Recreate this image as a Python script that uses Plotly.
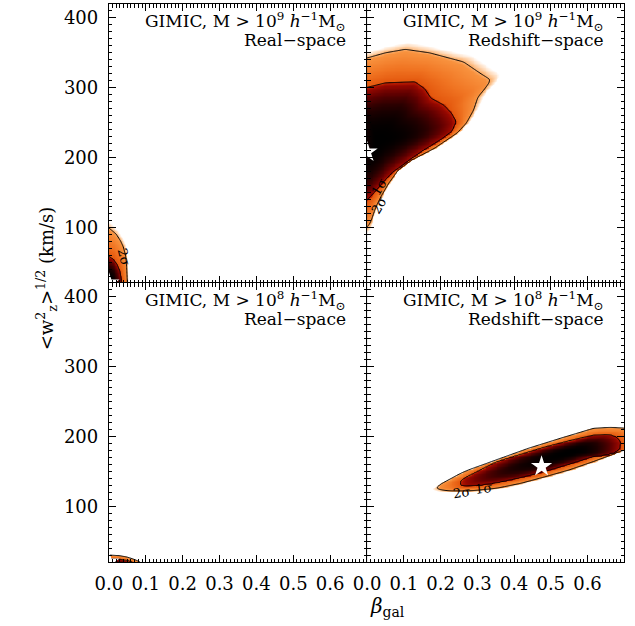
import numpy as np
import plotly.graph_objects as go

# ---------------------------------------------------------------------------
# Axis set-up
# ---------------------------------------------------------------------------
BETA_RANGE = [0.0, 0.7]
SIGMA_RANGE = [20.0, 420.0]
beta_ticks = [0.0, 0.1, 0.2, 0.3, 0.4, 0.5, 0.6]
sigma_ticks = [100, 200, 300, 400]

# Likelihood contour levels (delta chi^2 for two parameters)
DCHI2_1SIG = 2.30
DCHI2_2SIG = 6.17

# ---------------------------------------------------------------------------
# Panel data: peak of the likelihood, 1-sigma and 2-sigma outlines, best fit
# ---------------------------------------------------------------------------
# GIMIC, M > 1e9, real space
tl_peak = (0.0, 22.0)
tl_1sig_beta = [-0.03, 0.0, 0.012, 0.022, 0.030, 0.034, 0.035, 0.030, 0.0, -0.03]
tl_1sig_sigma = [58, 58, 54, 47, 37, 25, 15, 5, 0, 0]
tl_2sig_beta = [-0.04, 0.0, 0.020, 0.032, 0.039, 0.045, 0.048, 0.049, 0.050, 0.050, 0.040, 0.0, -0.04]
tl_2sig_sigma = [99, 99, 90, 80, 72, 60, 48, 35, 22, 10, -5, -10, -10]
tl_star = (0.0, 20.0)

# GIMIC, M > 1e9, redshift space
tr_peak = (0.03, 225.0)
tr_1sig_beta = [-0.04, 0.0, 0.05, 0.13, 0.156, 0.174, 0.209, 0.231, 0.243, 0.231,
                0.200, 0.148, 0.106, 0.068, 0.042, 0.022, 0.0, -0.04]
tr_1sig_sigma = [301, 300.5, 307, 308.6, 299, 285, 275, 263, 251, 237,
                 225, 208, 192, 177.6, 163, 151, 139, 128]
tr_2sig_beta = [-0.04, 0.0, 0.05, 0.104, 0.17, 0.2625, 0.31, 0.337, 0.320, 0.302,
                0.290, 0.270, 0.245, 0.183, 0.121, 0.085, 0.059, 0.037, 0.024,
                0.009, 0.0, -0.04]
tr_2sig_sigma = [341, 342.6, 350, 355, 350, 337, 320, 311, 298, 287,
                 268, 249, 235, 213, 196, 182, 163, 143, 129,
                 106, 100, 88]
tr_star = (0.0, 208.0)

# GIMIC, M > 1e8, real space
bl_peak = (0.0, 15.0)
bl_1sig_beta = [-0.03, 0.0, 0.03, 0.05, 0.065, 0.070, 0.060, 0.0, -0.03]
bl_1sig_sigma = [25, 25, 24, 22.5, 20, 15, 8, 5, 5]
bl_2sig_beta = [-0.04, 0.0, 0.03, 0.05, 0.07, 0.085, 0.090, 0.080, 0.0, -0.04]
bl_2sig_sigma = [30, 30, 29, 27, 23.5, 20, 15, 5, 0, 0]
bl_star = (0.0, 20.0)

# GIMIC, M > 1e8, redshift space
br_peak = (0.55, 178.0)
br_1sig_beta = [0.254, 0.30, 0.351, 0.42, 0.483, 0.55, 0.616, 0.660, 0.680, 0.690,
                0.688, 0.675, 0.640, 0.616, 0.55, 0.483, 0.42, 0.351, 0.30, 0.254]
br_1sig_sigma = [138, 150, 164, 175, 185, 194, 202, 203, 199, 192,
                 182, 176, 172, 171, 160, 149.5, 141, 133, 129, 128]
br_2sig_beta = [0.183, 0.22, 0.2625, 0.35, 0.439, 0.53, 0.616, 0.660, 0.700, 0.735,
                0.750, 0.740, 0.700, 0.616, 0.55, 0.483, 0.42, 0.351, 0.28, 0.218, 0.195]
br_2sig_sigma = [127, 137, 149.5, 166, 183, 198, 211.6, 213, 212, 206,
                 195, 184, 180.6, 164, 152, 142, 133, 125.6, 122, 122, 124]
br_star = (0.475, 157.0)

panel_mass = ["10<sup>9</sup>", "10<sup>9</sup>", "10<sup>8</sup>", "10<sup>8</sup>"]
panel_space = ["Real\u2212space", "Redshift\u2212space", "Real\u2212space", "Redshift\u2212space"]

# ---------------------------------------------------------------------------
# Geometry (pixels) of the 2x2 grid
# ---------------------------------------------------------------------------
W, H = 635, 626
COL_X = [(97, 361), (361, 624)]
ROW_Y = [(4, 283), (283, 562)]
PX_W = 264.0
PX_H = 279.0
FONT = "DejaVu Serif"


def to_px(beta, sigma):
    b = np.asarray(beta, dtype=float)
    s = np.asarray(sigma, dtype=float)
    return (b - BETA_RANGE[0]) / (BETA_RANGE[1] - BETA_RANGE[0]) * PX_W, \
           (s - SIGMA_RANGE[0]) / (SIGMA_RANGE[1] - SIGMA_RANGE[0]) * PX_H


def ray_radii(beta, sigma, cx, cy, theta):
    """Distance from (cx, cy) to a closed outline along each direction theta."""
    px, py = to_px(beta, sigma)
    ax, ay = px - cx, py - cy
    ex, ey = np.roll(ax, -1) - ax, np.roll(ay, -1) - ay
    dx, dy = np.cos(theta)[:, None], np.sin(theta)[:, None]
    den = dx * ey - dy * ex
    with np.errstate(divide="ignore", invalid="ignore"):
        t = (ax * ey - ay * ex) / den
        s = (ax * dy - ay * dx) / den
    ok = (np.abs(den) > 1e-12) & (s >= 0) & (s <= 1) & (t > 0)
    return np.where(ok, t, 0.0).max(axis=1)


def circ_smooth(r, n=9):
    k = np.ones(n) / n
    pad = np.concatenate([r[-n:], r, r[:n]])
    return np.convolve(pad, k, mode="same")[n:-n]


beta_grid = np.linspace(-0.05, 0.75, 321)
sigma_grid = np.linspace(0.0, 440.0, 221)


def dchi2_surface(peak, b1, s1, b2, s2, power=2.6):
    cx, cy = to_px(*peak)
    theta = np.linspace(-np.pi, np.pi, 1440, endpoint=False)
    r1 = circ_smooth(ray_radii(b1, s1, cx, cy, theta))
    r2 = circ_smooth(ray_radii(b2, s2, cx, cy, theta))
    gx, gy = to_px(beta_grid, sigma_grid)
    GX, GY = np.meshgrid(gx, gy)
    dx, dy = GX - cx, GY - cy
    r = np.hypot(dx, dy)
    th = np.arctan2(dy, dx)
    R1 = np.interp(th, theta, r1, period=2 * np.pi)
    R2 = np.interp(th, theta, r2, period=2 * np.pi)
    inner = DCHI2_1SIG * (r / R1) ** power
    outer = DCHI2_1SIG + (DCHI2_2SIG - DCHI2_1SIG) * (r - R1) / np.maximum(R2 - R1, 1e-6)
    z = np.where(r <= R1, inner, outer)
    return np.clip(z, 0, 12).astype(np.float32)


# reversed "red temperature" style map on delta chi^2
ZMAX = 10.0
colorscale = [
    [0.00, "rgb(0,0,0)"],
    [0.06, "rgb(40,0,0)"],
    [0.13, "rgb(95,0,0)"],
    [0.20, "rgb(150,8,0)"],
    [0.23, "rgb(185,28,0)"],
    [0.245, "rgb(228,88,14)"],
    [0.40, "rgb(240,116,34)"],
    [0.59, "rgb(248,146,62)"],
    [0.625, "rgb(252,178,112)"],
    [0.66, "rgb(255,218,184)"],
    [0.70, "rgb(255,255,255)"],
    [1.00, "rgb(255,255,255)"],
]

panels = [
    (tl_peak, tl_1sig_beta, tl_1sig_sigma, tl_2sig_beta, tl_2sig_sigma, tl_star),
    (tr_peak, tr_1sig_beta, tr_1sig_sigma, tr_2sig_beta, tr_2sig_sigma, tr_star),
    (bl_peak, bl_1sig_beta, bl_1sig_sigma, bl_2sig_beta, bl_2sig_sigma, bl_star),
    (br_peak, br_1sig_beta, br_1sig_sigma, br_2sig_beta, br_2sig_sigma, br_star),
]

fig = go.Figure()
layout = {}

for i, (peak, b1, s1, b2, s2, star) in enumerate(panels):
    row, col = divmod(i, 2)
    n = "" if i == 0 else str(i + 1)
    xa, ya = "x" + n, "y" + n
    z = dchi2_surface(peak, b1, s1, b2, s2)

    fig.add_trace(go.Heatmap(
        x=beta_grid, y=sigma_grid, z=z, zmin=0, zmax=ZMAX,
        colorscale=colorscale, zsmooth="best", showscale=False,
        hoverinfo="skip", xaxis=xa, yaxis=ya))
    fig.add_trace(go.Contour(
        x=beta_grid, y=sigma_grid, z=z, showscale=False, hoverinfo="skip",
        contours=dict(coloring="none", start=DCHI2_1SIG, end=6.2,
                      size=DCHI2_2SIG - DCHI2_1SIG),
        line=dict(color="black", width=1, smoothing=1),
        xaxis=xa, yaxis=ya))
    fig.add_trace(go.Scatter(
        x=[star[0]], y=[star[1]], mode="markers", cliponaxis=True,
        marker=dict(symbol="star", size=16, color="white", line=dict(width=0)),
        hoverinfo="skip", showlegend=False, xaxis=xa, yaxis=ya))

    x0, x1 = COL_X[col]
    y0, y1 = ROW_Y[row]
    tick_font = dict(family=FONT, size=18, color="black")
    layout["xaxis" + n] = dict(
        domain=[x0 / W, x1 / W], range=BETA_RANGE, anchor=ya,
        tickvals=beta_ticks, ticktext=[f"{v:.1f}" for v in beta_ticks],
        showticklabels=(row == 1), ticks="inside", ticklen=7, tickwidth=1,
        tickcolor="black", mirror="allticks", showline=True, linecolor="black",
        linewidth=1, showgrid=False, zeroline=False, tickfont=tick_font,
        ticklabelstandoff=5,
        minor=dict(tick0=0, dtick=0.01, ticks="inside", ticklen=3.5,
                   tickwidth=1, tickcolor="black", showgrid=False))
    layout["yaxis" + n] = dict(
        domain=[1 - y1 / H, 1 - y0 / H], range=SIGMA_RANGE, anchor=xa,
        tickvals=sigma_ticks, showticklabels=(col == 0), ticks="inside",
        ticklen=7, tickwidth=1, tickcolor="black", mirror="allticks",
        showline=True, linecolor="black", linewidth=1, showgrid=False,
        zeroline=False, tickfont=tick_font, ticklabelstandoff=6,
        minor=dict(tick0=0, dtick=10, ticks="inside", ticklen=3.5,
                   tickwidth=1, tickcolor="black", showgrid=False))

annotations = []


def px_note(text, x, y, size=18, xanchor="center", yanchor="middle", angle=0):
    annotations.append(dict(
        text=text, x=x / W, y=1 - y / H, xref="paper", yref="paper",
        xanchor=xanchor, yanchor=yanchor, showarrow=False, textangle=angle,
        font=dict(family=FONT, size=size, color="black")))


for i in range(4):
    row, col = divmod(i, 2)
    right = COL_X[col][1] - 19
    top = ROW_Y[row][0]
    px_note(f"GIMIC, M &gt; {panel_mass[i]} <i>h</i><sup>\u22121</sup>M<sub>\u2299</sub>",
            right, top + 17, size=17, xanchor="right")
    px_note(panel_space[i], right, top + 36, size=17, xanchor="right")

# sigma labels on the contours
px_note("2\u03c3", 112, 257, size=13, angle=75)
px_note("1\u03c3", 374, 187, size=13, angle=-60)
px_note("2\u03c3", 373, 205, size=13, angle=-60)
px_note("2\u03c3", 458, 492, size=13, angle=-8)
px_note("1\u03c3", 480, 488, size=13, angle=-8)

# axis titles
px_note("&lt;w<sup>2</sup><sub>z</sub>&gt;<sup>1/2</sup> (km/s)", 33, 278, angle=-90)
px_note("<i>\u03b2</i><sub>gal</sub>", 362, 607, size=20, xanchor="left")

fig.update_layout(
    width=W, height=H, margin=dict(l=0, r=0, t=0, b=0),
    paper_bgcolor="white", plot_bgcolor="white", showlegend=False,
    annotations=annotations, **layout)

fig.write_html("out.html")
